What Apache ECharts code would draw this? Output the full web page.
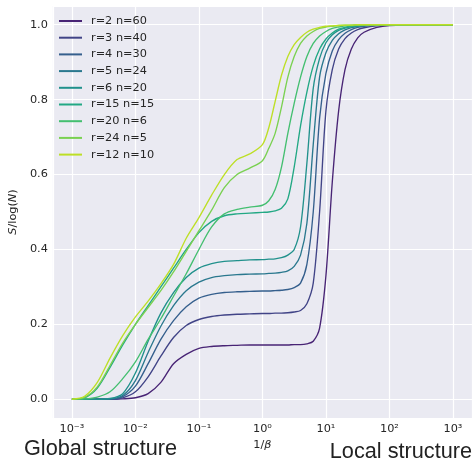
<!DOCTYPE html>
<html>
<head>
<meta charset="utf-8">
<script src="https://cdn.jsdelivr.net/npm/echarts@6/dist/echarts.min.js"></script>
<style>
  html, body { margin: 0; padding: 0; background: #fff; }
  #chart { width: 473px; height: 460px; }
</style>
</head>
<body>
<div id="chart"></div>
<script>
// log10(1/beta) sample positions
const logInvBeta = [-3, -2.8, -2.6, -2.4, -2.2, -2, -1.8, -1.6, -1.4, -1.2, -1, -0.8, -0.6, -0.4, -0.2,
  0, 0.1, 0.2, 0.3, 0.4, 0.5, 0.6, 0.7, 0.8, 0.9, 1, 1.1, 1.2, 1.3, 1.4, 1.5, 1.6, 1.8, 2, 2.5, 3];

const names = ['r=2 n=60', 'r=3 n=40', 'r=4 n=30', 'r=5 n=24', 'r=6 n=20',
  'r=15 n=15', 'r=20 n=6', 'r=24 n=5', 'r=12 n=10'];

const colors = ['#482475', '#414487', '#355f8d', '#2a788e', '#21918c',
  '#22a884', '#44bf70', '#7ad151', '#bddf26'];

// S/log(N)
const r2n60 = [0, 0, 0, 0, 0.001, 0.004, 0.015, 0.045, 0.095, 0.12, 0.136, 0.141, 0.143, 0.144, 0.145,
  0.145, 0.145, 0.145, 0.145, 0.145, 0.146, 0.146, 0.148, 0.155, 0.19, 0.33, 0.58, 0.77, 0.88, 0.935, 0.965, 0.98, 0.993, 0.998, 1, 1];
const r3n40 = [0, 0, 0, 0, 0.004, 0.02, 0.06, 0.115, 0.165, 0.197, 0.213, 0.221, 0.225, 0.227, 0.228,
  0.229, 0.229, 0.23, 0.23, 0.231, 0.233, 0.237, 0.255, 0.31, 0.5, 0.77, 0.88, 0.935, 0.963, 0.978, 0.987, 0.992, 0.997, 0.999, 1, 1];
const r4n30 = [0, 0, 0, 0, 0.007, 0.035, 0.095, 0.16, 0.21, 0.247, 0.27, 0.28, 0.285, 0.287, 0.288,
  0.289, 0.289, 0.29, 0.291, 0.293, 0.298, 0.31, 0.36, 0.5, 0.75, 0.87, 0.93, 0.96, 0.977, 0.987, 0.993, 0.996, 0.999, 1, 1, 1];
const r5n24 = [0, 0, 0, 0.001, 0.01, 0.05, 0.125, 0.195, 0.25, 0.29, 0.313, 0.325, 0.33, 0.333, 0.334,
  0.335, 0.336, 0.337, 0.339, 0.343, 0.355, 0.385, 0.47, 0.68, 0.86, 0.925, 0.958, 0.976, 0.986, 0.992, 0.996, 0.998, 1, 1, 1, 1];
const r6n20 = [0, 0, 0, 0.002, 0.015, 0.07, 0.155, 0.23, 0.285, 0.325, 0.35, 0.362, 0.368, 0.37, 0.372,
  0.373, 0.374, 0.375, 0.378, 0.385, 0.4, 0.46, 0.63, 0.83, 0.91, 0.952, 0.973, 0.985, 0.991, 0.995, 0.997, 0.998, 1, 1, 1, 1];
const r15n15 = [0, 0.004, 0.03, 0.085, 0.145, 0.2, 0.25, 0.3, 0.35, 0.4, 0.445, 0.475, 0.49, 0.495, 0.497,
  0.499, 0.5, 0.503, 0.51, 0.535, 0.62, 0.73, 0.82, 0.89, 0.935, 0.962, 0.978, 0.988, 0.993, 0.996, 0.998, 0.999, 1, 1, 1, 1];
const r20n6 = [0, 0.001, 0.006, 0.02, 0.055, 0.1, 0.16, 0.215, 0.275, 0.335, 0.4, 0.46, 0.495, 0.507, 0.513,
  0.518, 0.53, 0.56, 0.62, 0.71, 0.79, 0.86, 0.915, 0.95, 0.97, 0.982, 0.99, 0.994, 0.997, 0.998, 0.999, 1, 1, 1, 1, 1];
const r24n5 = [0, 0.005, 0.033, 0.09, 0.15, 0.2, 0.245, 0.29, 0.34, 0.395, 0.45, 0.505, 0.565, 0.6, 0.617,
  0.637, 0.67, 0.71, 0.78, 0.86, 0.915, 0.95, 0.97, 0.982, 0.99, 0.994, 0.996, 0.998, 0.999, 0.999, 1, 1, 1, 1, 1, 1];
const r12n10 = [0, 0.008, 0.045, 0.11, 0.17, 0.22, 0.262, 0.308, 0.36, 0.43, 0.485, 0.545, 0.6, 0.64, 0.655,
  0.68, 0.725, 0.795, 0.865, 0.915, 0.947, 0.966, 0.98, 0.988, 0.993, 0.996, 0.997, 0.998, 0.999, 0.999, 1, 1, 1, 1, 1, 1];

const curves = [r2n60, r3n40, r4n30, r5n24, r6n20, r15n15, r20n6, r24n5, r12n10];

const font = 'DejaVu Sans';
const textColor = '#262626';
const supMap = { '-': '\u207b', '0': '\u2070', '1': '\u00b9', '2': '\u00b2', '3': '\u00b3',
  '4': '\u2074', '5': '\u2075', '6': '\u2076', '7': '\u2077', '8': '\u2078', '9': '\u2079' };

const myChart = echarts.init(document.getElementById('chart'));

const series = curves.map((ys, i) => ({
  name: names[i],
  type: 'line',
  data: ys.map((y, j) => [Math.pow(10, logInvBeta[j]), y]),
  symbol: 'none',
  smooth: 0.3,
  color: colors[i],
  lineStyle: { width: 1.35, color: colors[i] },
  emphasis: { disabled: true },
  z: 2 + i
}));

const option = {
  animation: false,
  grid: {
    left: 48, right: 1, top: 6, bottom: 42,
    show: true, backgroundColor: '#eaeaf2', borderWidth: 0
  },
  legend: {
    orient: 'vertical',
    left: 58, top: 15,
    padding: 0,
    itemWidth: 23, itemHeight: 12, itemGap: 4.7,
    itemStyle: { opacity: 0, borderWidth: 0 },
    textStyle: { fontFamily: font, fontSize: 11.3, color: textColor, lineHeight: 12, padding: [0, 0, 0, 4] },
    data: names
  },
  xAxis: {
    type: 'log',
    logBase: 10,
    min: Math.pow(10, -3.3),
    max: Math.pow(10, 3.3),
    name: '1/{i|\u03b2}',
    nameLocation: 'middle',
    nameGap: 22,
    nameTextStyle: {
      fontFamily: font, fontSize: 11.3, color: textColor,
      rich: { i: { fontFamily: font, fontSize: 11.3, fontStyle: 'italic', color: textColor } }
    },
    axisLine: { show: false },
    axisTick: { show: false },
    splitLine: { show: true, lineStyle: { color: '#fff', width: 1.2 } },
    minorSplitLine: { show: false },
    axisLabel: {
      showMinLabel: false, showMaxLabel: false,
      margin: 6,
      fontFamily: font, fontSize: 11.3, color: textColor,
      formatter: v => {
        const e = Math.round(Math.log10(v));
        return '10' + String(e).split('').map(c => supMap[c]).join('');
      }
    }
  },
  yAxis: {
    type: 'value',
    min: -0.05,
    max: 1.05,
    splitNumber: 5,
    name: '{i|S}/log({i|N})',
    nameLocation: 'middle',
    nameGap: 33,
    nameTextStyle: {
      fontFamily: font, fontSize: 11.3, color: textColor,
      rich: { i: { fontFamily: font, fontSize: 11.3, fontStyle: 'italic', color: textColor } }
    },
    axisLine: { show: false },
    axisTick: { show: false },
    splitLine: { show: true, lineStyle: { color: '#fff', width: 1.2 } },
    axisLabel: {
      showMinLabel: false, showMaxLabel: false,
      margin: 5,
      fontFamily: font, fontSize: 11.3, color: textColor,
      formatter: v => v.toFixed(1)
    }
  },
  graphic: [
    { type: 'text', left: 24, top: 438,
      style: { text: 'Global structure', font: '21.7px "Liberation Sans"', fill: '#222' } },
    { type: 'text', right: 1, top: 441,
      style: { text: 'Local structure', font: '21.7px "Liberation Sans"', fill: '#222' } }
  ],
  series: series
};

myChart.setOption(option);
</script>
</body>
</html>
